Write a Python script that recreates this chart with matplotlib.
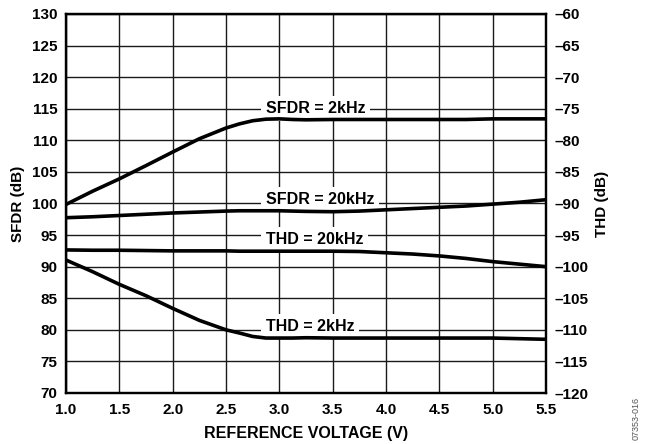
import matplotlib
matplotlib.use("Agg")
import matplotlib.pyplot as plt

plt.rcParams['font.family'] = ['Liberation Sans', 'DejaVu Sans']
plt.rcParams['font.weight'] = 'bold'

# Reference voltage (V)
vref = [1.0, 1.25, 1.5, 1.75, 2.0, 2.25, 2.5, 2.625, 2.75, 2.875, 3.0, 3.125, 3.25, 3.5,
        3.75, 4.0, 4.25, 4.5, 4.75, 5.0, 5.25, 5.5]

# SFDR (dB), left axis
sfdr_2k = [99.85, 101.95, 103.9, 106.0, 108.15, 110.25, 111.95, 112.6, 113.1, 113.35, 113.4,
           113.3, 113.25, 113.3, 113.3, 113.3, 113.3, 113.3, 113.3, 113.4, 113.4, 113.4]
sfdr_20k = [97.75, 97.9, 98.1, 98.3, 98.5, 98.65, 98.8, 98.85, 98.85, 98.85, 98.85, 98.8,
            98.75, 98.7, 98.8, 99.0, 99.2, 99.4, 99.6, 99.9, 100.2, 100.6]

# THD (dB), right axis
thd_20k = [-97.35, -97.4, -97.4, -97.45, -97.5, -97.5, -97.5, -97.55, -97.55, -97.55, -97.55,
           -97.55, -97.55, -97.55, -97.6, -97.8, -98.0, -98.3, -98.7, -99.2, -99.6, -100.0]
thd_2k = [-98.95, -100.8, -102.8, -104.6, -106.6, -108.5, -110.0, -110.5, -111.05, -111.3,
          -111.3, -111.3, -111.25, -111.3, -111.3, -111.3, -111.3, -111.3, -111.3, -111.3,
          -111.4, -111.5]

x_ticks = [1.0, 1.5, 2.0, 2.5, 3.0, 3.5, 4.0, 4.5, 5.0, 5.5]
left_ticks = list(range(70, 131, 5))
right_ticks = list(range(-120, -59, 5))

labels = ["SFDR = 2kHz", "SFDR = 20kHz", "THD = 20kHz", "THD = 2kHz"]
label_y = [114.3, 99.9, 93.6, 79.85]   # baseline positions on SFDR axis
label_x = 2.875

fig = plt.figure(figsize=(6.53, 4.44), dpi=100)
ax = fig.add_axes([66/653, 1-393/444, 480/653, 379/444])
ax2 = ax.twinx()

ax.set_xlim(1.0, 5.5)
ax.set_ylim(70, 130)
ax2.set_ylim(-120, -60)

ax.set_xticks(x_ticks)
ax.set_xticklabels([f"{v:.1f}" for v in x_ticks])
ax.set_yticks(left_ticks)
ax2.set_yticks(right_ticks)
ax2.set_yticklabels([f"\u2013{abs(v)}" for v in right_ticks])

ax.grid(True, color='#1a1a1a', linewidth=1.0, zorder=0)
ax.set_axisbelow(True)

for a in (ax, ax2):
    a.tick_params(length=0, labelsize=11)
    for s in a.spines.values():
        s.set_linewidth(1.6)
        s.set_color('black')
ax.tick_params(axis='x', pad=7)
ax.tick_params(axis='y', pad=6)
ax2.tick_params(axis='y', pad=6)

line_kw = dict(color='black', linewidth=2.6, zorder=5, solid_capstyle='butt',
               solid_joinstyle='round')
ax.plot(vref, sfdr_2k, **line_kw)
ax.plot(vref, sfdr_20k, **line_kw)
ax2.plot(vref, thd_20k, **line_kw)
ax2.plot(vref, thd_2k, **line_kw)

for t, yv in zip(labels, label_y):
    ax.text(label_x, yv, t, ha='left', va='baseline', fontsize=11.5, fontweight='bold',
            zorder=3, bbox=dict(boxstyle='square,pad=0.3', facecolor='white', edgecolor='none'))

ax.set_xlabel("REFERENCE VOLTAGE (V)", fontsize=11.5, fontweight='bold', labelpad=7)
ax.set_ylabel("SFDR (dB)", fontsize=11, fontweight='bold', labelpad=5)
ax2.set_ylabel("THD (dB)", fontsize=11, fontweight='bold', labelpad=5)

fig.text(636/653, 1-418/444, "07353-016", rotation=90, fontsize=6.5, color='#555555',
         fontweight='normal', ha='center', va='center')

fig.savefig("out.png", dpi=100)
